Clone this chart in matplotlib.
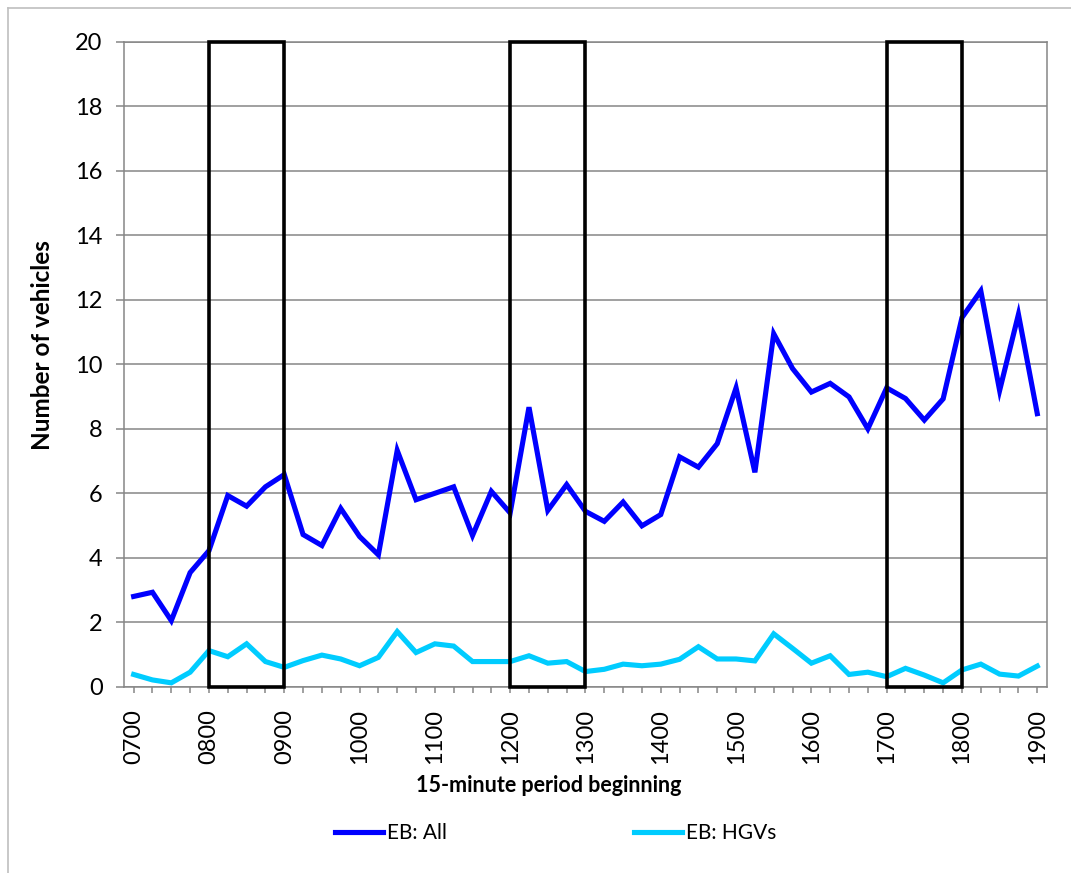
import matplotlib
matplotlib.use("Agg")
import matplotlib.pyplot as plt
from matplotlib.patches import Rectangle
from matplotlib.lines import Line2D

plt.rcParams["font.family"] = ["Lato", "DejaVu Sans"]

# 15-minute periods 0700..1900, labels every hour
periods = [f"{h:02d}{m:02d}" for h in range(7, 20) for m in (0, 15, 30, 45)][:49]
hour_labels = ["0700", "0800", "0900", "1000", "1100", "1200", "1300",
               "1400", "1500", "1600", "1700", "1800", "1900"]

eb_all = [2.80, 2.93, 2.05, 3.54, 4.22, 5.93, 5.60, 6.20, 6.58, 4.72,
          4.38, 5.53, 4.66, 4.09, 7.33, 5.80, 6.00, 6.20, 4.69, 6.06,
          5.39, 8.67, 5.47, 6.27, 5.44, 5.13, 5.73, 4.99, 5.34, 7.13,
          6.81, 7.54, 9.27, 6.65, 10.95, 9.87, 9.14, 9.41, 8.99, 8.00,
          9.27, 8.94, 8.27, 8.93, 11.45, 12.28, 9.19, 11.55, 8.47]
eb_hgv = [0.38, 0.21, 0.12, 0.45, 1.12, 0.93, 1.33, 0.78, 0.60, 0.81,
          0.98, 0.86, 0.65, 0.91, 1.71, 1.06, 1.33, 1.26, 0.78, 0.78,
          0.78, 0.96, 0.73, 0.78, 0.47, 0.54, 0.70, 0.65, 0.70, 0.85,
          1.24, 0.86, 0.86, 0.80, 1.64, 1.19, 0.73, 0.96, 0.38, 0.45,
          0.31, 0.57, 0.36, 0.12, 0.52, 0.70, 0.39, 0.33, 0.64]

# peak hours highlighted with boxes (start period, end period)
peaks = [("0800", "0900"), ("1200", "1300"), ("1700", "1800")]

x = list(range(len(periods)))

fig = plt.figure(figsize=(10.71, 8.73), dpi=100)
ax = fig.add_axes([0.116, 0.2134, 0.8613, 0.7385])

ax.plot(x, eb_all, color="#0000FF", lw=3.7, label="EB: All", solid_joinstyle="miter", zorder=3)
ax.plot(x, eb_hgv, color="#00CCFF", lw=3.7, label="EB: HGVs", solid_joinstyle="miter", zorder=3)

for start, end in peaks:
    i0, i1 = periods.index(start), periods.index(end)
    ax.add_patch(Rectangle((i0, 0), i1 - i0, 20, fill=False, edgecolor="black",
                           lw=2.6, clip_on=False, zorder=4))

ax.set_xlim(-0.5, len(periods) - 0.5)
ax.set_ylim(0, 20)
ax.set_yticks(range(0, 21, 2))
ax.yaxis.grid(True, color="#868686", lw=1.1)
ax.set_axisbelow(True)

ax.set_xticks([periods.index(h) for h in hour_labels])
ax.set_xticklabels(hour_labels, rotation=90)
ax.set_xticks(x, minor=True)

for s in ax.spines.values():
    s.set_color("#868686")
    s.set_linewidth(1.1)

ax.tick_params(axis="y", length=5.5, width=1.1, color="#868686", pad=10, labelsize=17)
ax.tick_params(axis="x", which="both", length=4, width=1.1, color="#868686")
ax.tick_params(axis="x", which="major", pad=12, labelsize=17)

ax.set_ylabel("Number of vehicles", fontsize=17.5, fontweight="bold")
ax.yaxis.set_label_coords(-0.076, 0.530)
ax.set_xlabel("15-minute period beginning", fontsize=15.5, fontweight="bold")
ax.xaxis.set_label_coords(0.460, -0.137)

fig.legend(loc="center", bbox_to_anchor=(0.519, 0.046), ncol=2, frameon=False,
           fontsize=15, handlelength=2.3, handletextpad=0.2, columnspacing=9.0)

# outer chart-area border (only left and top visible)
fig.add_artist(Line2D([8 / 1071, 8 / 1071], [0, 1 - 8 / 873], color="#BFBFBF", lw=1.2))
fig.add_artist(Line2D([8 / 1071, 1], [1 - 8 / 873, 1 - 8 / 873], color="#BFBFBF", lw=1.2))

fig.savefig("out.png", dpi=100)
